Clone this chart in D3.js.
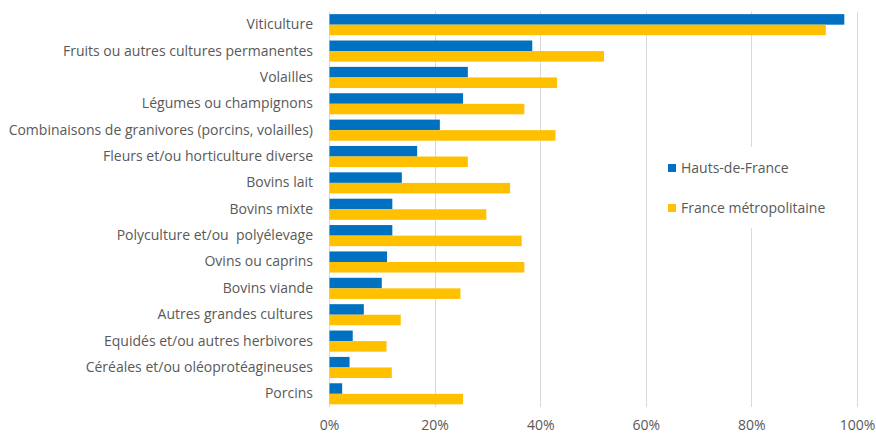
<!DOCTYPE html>
<html>
<head>
<meta charset="utf-8">
<script src="https://cdn.jsdelivr.net/npm/d3@7/dist/d3.min.js"></script>
<style>
  html, body { margin: 0; padding: 0; background: #fff; }
  svg { display: block; }
  text { font-family: "Open Sans", Lato, sans-serif; fill: #595959; white-space: pre; }
</style>
</head>
<body>
<svg id="chart" width="876" height="434"></svg>
<script>
const categories = [
  "Viticulture",
  "Fruits ou autres cultures permanentes",
  "Volailles",
  "Légumes ou champignons",
  "Combinaisons de granivores (porcins, volailles)",
  "Fleurs et/ou horticulture diverse",
  "Bovins lait",
  "Bovins mixte",
  "Polyculture et/ou  polyélevage",
  "Ovins ou caprins",
  "Bovins viande",
  "Autres grandes cultures",
  "Equidés et/ou autres herbivores",
  "Céréales et/ou oléoprotéagineuses",
  "Porcins"
];
const seriesNames = ["Hauts-de-France", "France métropolitaine"];
const hautsDeFrance = [97.5, 38.4, 26.2, 25.3, 20.9, 16.6, 13.7, 11.9, 11.9, 10.9, 9.9, 6.5, 4.4, 3.8, 2.4];
const franceMetro   = [94.0, 52.0, 43.1, 36.9, 42.8, 26.2, 34.2, 29.7, 36.4, 36.9, 24.8, 13.5, 10.8, 11.8, 25.3];
const tickValues = [0, 20, 40, 60, 80, 100];
const colors = ["#0070C0", "#FFC000"];

const FONT = "'Open Sans', Lato, sans-serif";
const FS = "14px";

const svg = d3.select("#chart");
const margin = { left: 329, right: 19, top: 11.5, bottom: 27 };
const W = 876, H = 434;

const x = d3.scaleLinear().domain([0, 100]).range([margin.left, W - margin.right]);
const y = d3.scaleBand().domain(categories).range([margin.top, H - margin.bottom])
  .paddingInner(0.2).paddingOuter(0.1);
const ySub = d3.scaleBand().domain(seriesNames).range([0, y.bandwidth()]);

// gridlines
svg.append("g").selectAll("line").data(tickValues).join("line")
  .attr("x1", d => Math.round(x(d)) + 0.5).attr("x2", d => Math.round(x(d)) + 0.5)
  .attr("y1", margin.top).attr("y2", H - margin.bottom)
  .attr("stroke", "#D9D9D9").attr("stroke-width", 1);

// bars
const series = [hautsDeFrance, franceMetro];
series.forEach((vals, si) => {
  svg.append("g").selectAll("rect").data(categories).join("rect")
    .attr("x", x(0) + 0.5)
    .attr("y", c => y(c) + ySub(seriesNames[si]))
    .attr("width", (c, i) => x(vals[i]) - x(0))
    .attr("height", ySub.bandwidth())
    .attr("fill", colors[si]);
});

// category axis
const yAxis = d3.axisLeft(y).tickSize(0).tickPadding(16);
const gy = svg.append("g").attr("transform", `translate(${x(0)},0)`).call(yAxis);
gy.select(".domain").remove();
gy.selectAll("text").style("font-family", FONT).style("white-space", "pre")
  .style("font-size", FS).attr("fill", "#595959");

// value axis
const xAxis = d3.axisBottom(x).tickValues(tickValues).tickSize(0).tickPadding(13)
  .tickFormat(d => d + "%");
const gx = svg.append("g").attr("transform", `translate(0,${H - margin.bottom})`).call(xAxis);
gx.select(".domain").remove();
gx.selectAll("text").style("font-family", FONT)
  .style("font-size", FS).attr("fill", "#595959");

// legend
const lg = svg.append("g");
lg.append("rect").attr("x", 648).attr("y", 147).attr("width", 207).attr("height", 81).attr("fill", "#fff");
seriesNames.forEach((s, i) => {
  const cy = 168 + i * 40;
  lg.append("rect").attr("x", 668).attr("y", cy - 4).attr("width", 8).attr("height", 8).attr("fill", colors[i]);
  lg.append("text").attr("x", 681).attr("y", cy).attr("dy", "0.35em")
    .style("font-family", FONT).style("font-size", FS).text(s);
});
</script>
</body>
</html>
